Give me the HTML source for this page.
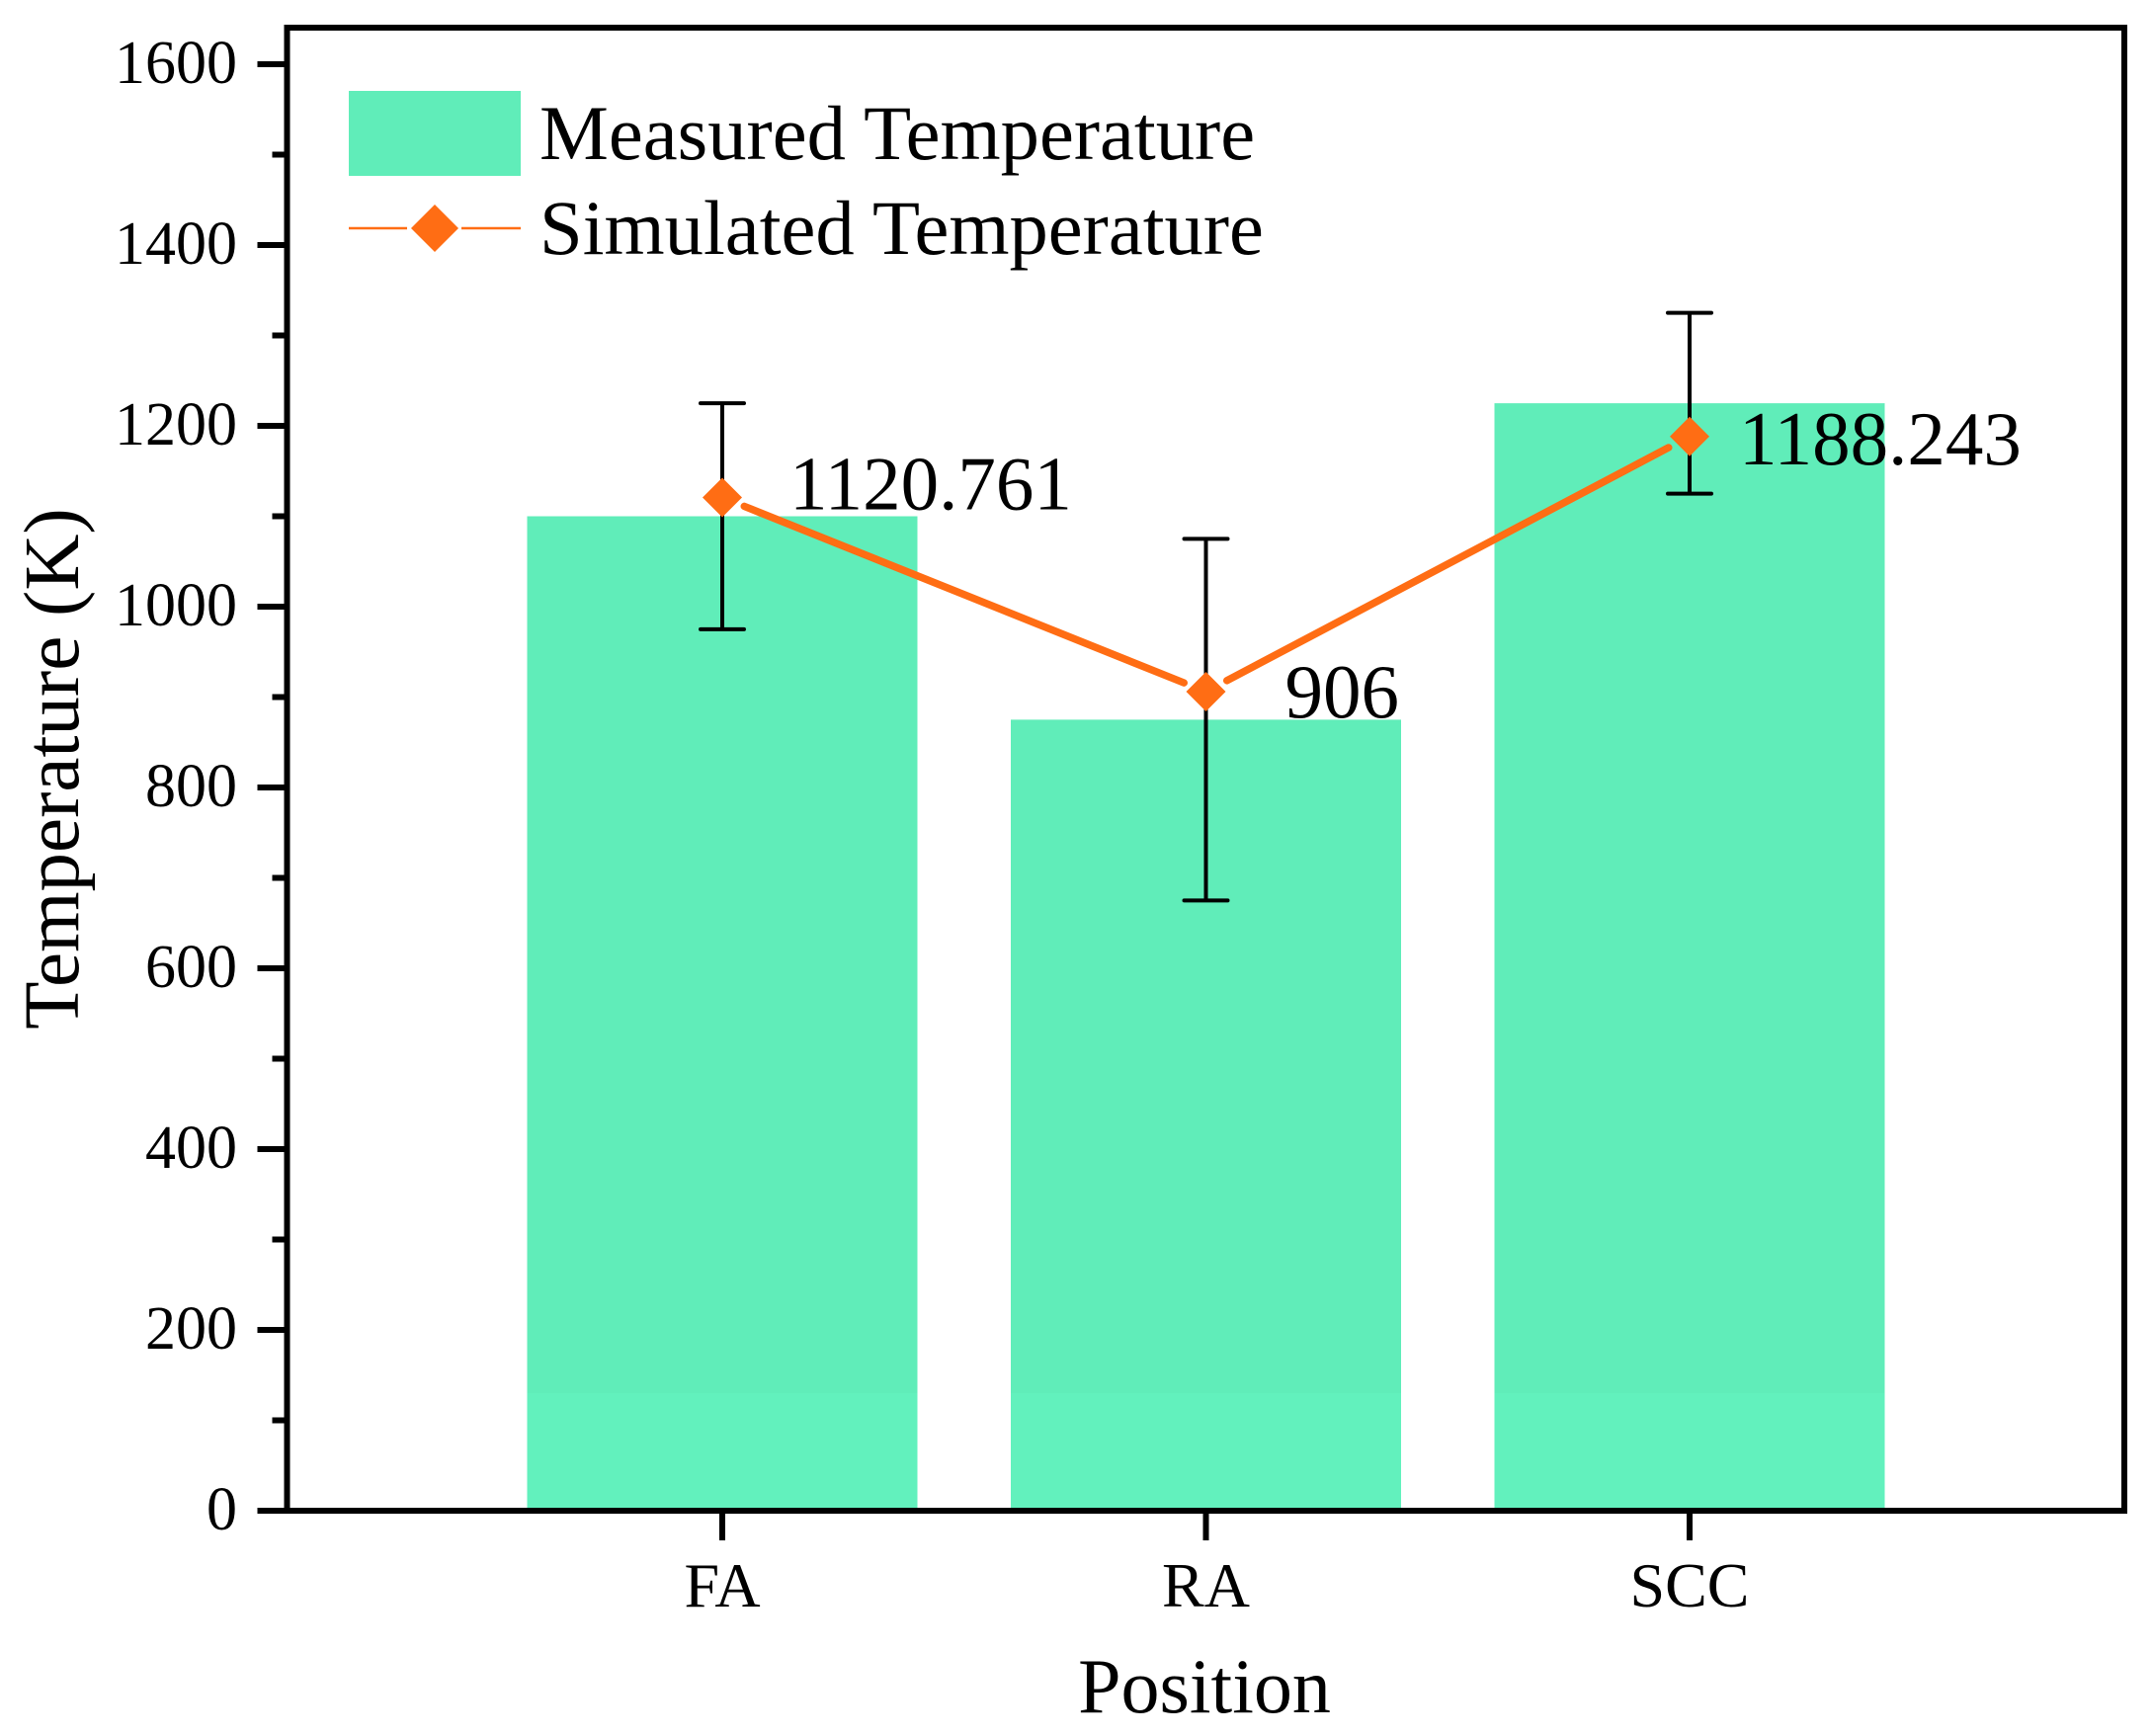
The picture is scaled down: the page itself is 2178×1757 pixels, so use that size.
<!DOCTYPE html>
<html lang="en">
<head>
<meta charset="utf-8">
<title>Measured and Simulated Temperature</title>
<style>
html,body{margin:0;padding:0;background:#fff}
svg{display:block}
text{font-family:"Liberation Serif",serif;fill:#000}
</style>
</head>
<body>
<svg id="chart" xmlns="http://www.w3.org/2000/svg" width="2178" height="1757" viewBox="0 0 2178 1757">
  <rect x="0" y="0" width="2178" height="1757" fill="#fff"/>
  <g id="plot"></g>
  <rect x="290.5" y="28" width="1859.5" height="1501" fill="none" stroke="#000" stroke-width="6"/>
  <g id="axes"></g>
  <text transform="translate(79,778) rotate(-90)" text-anchor="middle" font-size="79">Temperature (K)</text>
  <text x="1219" y="1733" text-anchor="middle" font-size="78">Position</text>
  <g>
    <rect x="353" y="92" width="174" height="86" fill="#60EDB9"/>
    <text x="546" y="161" font-size="78.6">Measured Temperature</text>
    <line x1="353" y1="231" x2="412" y2="231" stroke="#FF6D14" stroke-width="2.5"/>
    <line x1="467" y1="231" x2="527" y2="231" stroke="#FF6D14" stroke-width="2.5"/>
    <polygon points="440,207 464,231 440,255 416,231" fill="#FF6D14"/>
    <text x="546" y="257" font-size="78.6">Simulated Temperature</text>
  </g>
</svg>
<script>
const categories = ["FA", "RA", "SCC"];
const measured = [1100, 875, 1225];
const errors = [125, 200, 100];
const simulated = [1120.761, 906, 1188.243];
const majorTicks = [0, 200, 400, 600, 800, 1000, 1200, 1400, 1600];
const minorTicks = [100, 300, 500, 700, 900, 1100, 1300, 1500];

const NS = "http://www.w3.org/2000/svg";
const plotLeft = 290.5, plotBottom = 1529;
const pxPerUnit = 0.915;
const catStart = 731, catStep = 489.5, barWidth = 395;
const labelDx = [68, 80, 50];
const labelDy = [12, 26, 28];
const orange = "#FF6D14";

function y(v) { return plotBottom - v * pxPerUnit; }
function x(i) { return catStart + i * catStep; }
function make(tag, attrs, parent) {
  const el = document.createElementNS(NS, tag);
  for (const k in attrs) el.setAttribute(k, attrs[k]);
  parent.appendChild(el);
  return el;
}

const plot = document.getElementById("plot");
const axes = document.getElementById("axes");

categories.forEach(function (c, i) {
  const bar = make("rect", { x: x(i) - barWidth / 2, y: y(measured[i]), width: barWidth, height: plotBottom - y(measured[i]), fill: "#60EDB9" }, plot);
  
  
  const band = make("rect", { x: x(i) - barWidth / 2, y: y(Math.min(130, measured[i])), width: barWidth, height: plotBottom - y(Math.min(130, measured[i])), fill: "#62F1BD" }, plot);
  
  
});

categories.forEach(function (c, i) {
  const hi = y(measured[i] + errors[i]), lo = y(measured[i] - errors[i]);
  const stem = make("line", { x1: x(i), x2: x(i), y1: hi, y2: lo, stroke: "#000", "stroke-width": 4 }, plot);
  
  
  const capTop = make("line", { x1: x(i) - 22, x2: x(i) + 22, y1: hi, y2: hi, stroke: "#000", "stroke-width": 4, "stroke-linecap": "round" }, plot);
  
  
  const capBottom = make("line", { x1: x(i) - 22, x2: x(i) + 22, y1: lo, y2: lo, stroke: "#000", "stroke-width": 4, "stroke-linecap": "round" }, plot);
  
  
});

for (let i = 0; i < simulated.length - 1; i++) {
  const x1 = x(i), y1 = y(simulated[i]), x2 = x(i + 1), y2 = y(simulated[i + 1]);
  const len = Math.hypot(x2 - x1, y2 - y1), gap = 24;
  const ux = (x2 - x1) / len, uy = (y2 - y1) / len;
  const seg = make("line", { x1: x1 + ux * gap, y1: y1 + uy * gap, x2: x2 - ux * gap, y2: y2 - uy * gap, stroke: orange, "stroke-width": 7.5, "stroke-linecap": "round" }, plot);
  
  
}

categories.forEach(function (c, i) {
  const cx = x(i), cy = y(simulated[i]), r = 20;
  const pt = make("polygon", { points: cx + "," + (cy - r) + " " + (cx + r) + "," + cy + " " + cx + "," + (cy + r) + " " + (cx - r) + "," + cy, fill: orange }, plot);
  
  
  const label = make("text", { x: cx + labelDx[i], y: cy + labelDy[i], "font-size": 77 }, plot);
  label.textContent = String(simulated[i]);
  
  
});

majorTicks.forEach(function (v) {
  const t = make("line", { x1: plotLeft - 30, x2: plotLeft, y1: y(v), y2: y(v), stroke: "#000", "stroke-width": 6 }, axes);
  
  
  const lab = make("text", { x: 240, y: y(v) + 19, "text-anchor": "end", "font-size": 62 }, axes);
  lab.textContent = String(v);
  
  
});

minorTicks.forEach(function (v) {
  const t = make("line", { x1: plotLeft - 15, x2: plotLeft, y1: y(v), y2: y(v), stroke: "#000", "stroke-width": 6 }, axes);
  
  
});

categories.forEach(function (c, i) {
  const t = make("line", { x1: x(i), x2: x(i), y1: plotBottom, y2: plotBottom + 30, stroke: "#000", "stroke-width": 6 }, axes);
  
  
  const lab = make("text", { x: x(i), y: 1626, "text-anchor": "middle", "font-size": 64 }, axes);
  lab.textContent = c;
  
  
});
</script>
</body>
</html>
